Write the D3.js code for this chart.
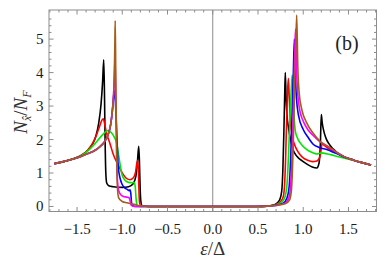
<!DOCTYPE html>
<html><head><meta charset="utf-8">
<script src="https://cdn.jsdelivr.net/npm/d3@7"></script>
<style>html,body{margin:0;padding:0;background:#fff;}svg{display:block;}</style>
</head><body><svg id="c" width="388" height="272"></svg>
<script>
// ---- data: [energy ε/Δ, N/N_F]
const blackSeries = [[-1.75,1.28],[-1.65,1.34],[-1.55,1.42],[-1.45,1.53],[-1.38,1.68],[-1.33,1.86],[-1.29,2.12],[-1.26,2.5],[-1.235,3.05],[-1.218,3.7],[-1.205,4.38],[-1.197,3.4],[-1.19,2.0],[-1.182,1.0],[-1.172,0.7],[-1.15,0.62],[-1.1,0.59],[-1.0,0.57],[-0.93,0.59],[-0.88,0.68],[-0.85,0.9],[-0.832,1.35],[-0.818,1.8],[-0.81,1.3],[-0.802,0.5],[-0.793,0.12],[-0.78,0.02],[-0.7,0],[0,0],[0.5,0],[0.6,0.01],[0.65,0.03],[0.7,0.08],[0.74,0.2],[0.762,0.45],[0.775,1.1],[0.786,2.2],[0.795,3.3],[0.802,4.0],[0.81,3.3],[0.82,2.75],[0.837,2.35],[0.86,2.0],[0.89,1.68],[0.93,1.5],[1.0,1.34],[1.05,1.25],[1.1,1.18],[1.15,1.15],[1.175,1.3],[1.19,1.9],[1.2,2.75],[1.21,2.5],[1.225,2.28],[1.25,2.05],[1.28,1.89],[1.33,1.72],[1.37,1.62],[1.45,1.49],[1.55,1.39],[1.65,1.31],[1.75,1.24]];
const redSeries = [[-1.75,1.28],[-1.65,1.34],[-1.55,1.42],[-1.45,1.53],[-1.38,1.69],[-1.33,1.88],[-1.29,2.1],[-1.25,2.4],[-1.225,2.58],[-1.21,2.62],[-1.19,2.4],[-1.174,2.19],[-1.137,1.89],[-1.1,1.56],[-1.045,1.24],[-0.99,0.96],[-0.95,0.83],[-0.915,0.8],[-0.88,0.85],[-0.855,1.0],[-0.838,1.3],[-0.83,1.38],[-0.822,1.1],[-0.815,0.4],[-0.808,0.1],[-0.795,0.02],[-0.7,0],[0,0],[0.5,0],[0.6,0.01],[0.7,0.06],[0.75,0.15],[0.78,0.3],[0.795,0.7],[0.806,1.5],[0.816,2.5],[0.826,3.4],[0.836,3.83],[0.845,3.3],[0.855,2.7],[0.875,2.15],[0.9,1.88],[0.93,1.69],[0.97,1.53],[1.0,1.45],[1.05,1.38],[1.1,1.34],[1.15,1.36],[1.18,1.45],[1.198,1.7],[1.208,1.88],[1.225,1.84],[1.26,1.77],[1.3,1.7],[1.37,1.6],[1.45,1.49],[1.55,1.39],[1.65,1.31],[1.75,1.24]];
const greenSeries = [[-1.75,1.28],[-1.65,1.34],[-1.55,1.42],[-1.45,1.52],[-1.38,1.66],[-1.32,1.82],[-1.27,1.98],[-1.22,2.14],[-1.18,2.24],[-1.156,2.27],[-1.12,2.2],[-1.09,2.08],[-1.065,1.92],[-1.045,1.62],[-1.027,1.3],[-1.008,1.0],[-0.975,0.8],[-0.93,0.72],[-0.89,0.71],[-0.87,0.72],[-0.857,0.6],[-0.848,0.25],[-0.838,0.04],[-0.8,0],[0,0],[0.5,0],[0.6,0.01],[0.7,0.05],[0.76,0.12],[0.8,0.3],[0.822,0.7],[0.837,1.5],[0.851,2.5],[0.866,3.4],[0.878,3.93],[0.889,3.3],[0.9,2.65],[0.915,2.22],[0.94,2.02],[0.967,1.9],[1.0,1.79],[1.04,1.7],[1.1,1.61],[1.15,1.57],[1.2,1.6],[1.25,1.58],[1.3,1.55],[1.37,1.5],[1.45,1.45],[1.55,1.38],[1.65,1.31],[1.75,1.24]];
const blueSeries = [[-1.75,1.28],[-1.65,1.34],[-1.55,1.41],[-1.45,1.5],[-1.38,1.58],[-1.3,1.68],[-1.25,1.78],[-1.2,1.92],[-1.16,2.12],[-1.13,2.42],[-1.11,2.85],[-1.097,3.25],[-1.089,3.46],[-1.08,3.3],[-1.07,2.8],[-1.058,2.0],[-1.045,1.2],[-1.025,0.85],[-1.005,0.68],[-0.97,0.55],[-0.94,0.5],[-0.925,0.47],[-0.915,0.5],[-0.906,0.4],[-0.898,0.12],[-0.888,0.02],[-0.85,0],[0,0],[0.5,0],[0.6,0.01],[0.7,0.04],[0.78,0.1],[0.82,0.25],[0.845,0.6],[0.862,1.5],[0.876,2.7],[0.89,3.9],[0.902,5.0],[0.912,4.0],[0.925,3.25],[0.948,2.72],[1.0,2.3],[1.06,2.04],[1.11,1.86],[1.17,1.77],[1.2,1.74],[1.25,1.71],[1.3,1.66],[1.37,1.58],[1.45,1.48],[1.55,1.39],[1.65,1.31],[1.75,1.24]];
const magentaSeries = [[-1.75,1.28],[-1.65,1.34],[-1.55,1.41],[-1.45,1.5],[-1.38,1.58],[-1.3,1.68],[-1.25,1.78],[-1.2,1.92],[-1.16,2.12],[-1.13,2.42],[-1.11,2.85],[-1.095,3.4],[-1.086,4.0],[-1.08,4.45],[-1.074,3.6],[-1.067,2.4],[-1.06,1.2],[-1.045,0.55],[-1.025,0.38],[-0.99,0.3],[-0.95,0.28],[-0.925,0.26],[-0.912,0.15],[-0.9,0.03],[-0.87,0],[0,0],[0.5,0],[0.6,0.01],[0.7,0.03],[0.8,0.1],[0.84,0.25],[0.86,0.6],[0.876,1.5],[0.89,2.8],[0.9,3.9],[0.91,4.9],[0.916,5.3],[0.925,4.2],[0.94,3.35],[0.96,2.9],[1.0,2.55],[1.05,2.3],[1.11,2.12],[1.19,1.92],[1.28,1.78],[1.37,1.62],[1.45,1.49],[1.55,1.39],[1.65,1.31],[1.75,1.24]];
const brownSeries = [[-1.75,1.28],[-1.65,1.34],[-1.55,1.41],[-1.45,1.5],[-1.38,1.58],[-1.3,1.68],[-1.25,1.78],[-1.2,1.92],[-1.16,2.12],[-1.13,2.42],[-1.11,2.85],[-1.095,3.4],[-1.087,4.1],[-1.082,4.9],[-1.078,5.55],[-1.072,4.0],[-1.066,2.5],[-1.06,1.2],[-1.052,0.5],[-1.04,0.26],[-1.0,0.15],[-0.95,0.11],[-0.9,0.08],[-0.85,0.05],[-0.8,0.02],[-0.75,0.01],[-0.7,0],[0,0],[0.5,0],[0.6,0.01],[0.7,0.03],[0.8,0.08],[0.85,0.2],[0.87,0.5],[0.886,1.5],[0.9,3.0],[0.915,4.5],[0.928,5.72],[0.94,4.2],[0.955,3.4],[0.985,2.89],[1.04,2.49],[1.11,2.19],[1.19,1.94],[1.28,1.79],[1.37,1.62],[1.45,1.49],[1.55,1.39],[1.65,1.31],[1.75,1.24]];

const seriesList = [blackSeries, redSeries, greenSeries, blueSeries, magentaSeries, brownSeries];
const seriesColors = ["#000000", "#ff0000", "#00e600", "#0000ff", "#ff00ff", "#a65c1a"];
const xMajorTicks = [-1.5, -1.0, -0.5, 0.0, 0.5, 1.0, 1.5];
const xTickLabels = ["\u22121.5", "\u22121.0", "\u22120.5", "0.0", "0.5", "1.0", "1.5"];
const yMajorTicks = [0, 1, 2, 3, 4, 5];
const yTickLabels = ["0", "1", "2", "3", "4", "5"];
const xDomain = [-1.81, 1.81];
const yDomain = [-0.15, 5.87];

// ---- layout
const L = 49, R = 376.5, T = 10, B = 211.5;
const svg = d3.select("#c");
const x = d3.scaleLinear().domain(xDomain).range([L, R]);
const y = d3.scaleLinear().domain(yDomain).range([B, T]);
const frameColor = "#8c8c8c";
const serif = "Liberation Serif, DejaVu Serif, serif";

// vertical zero line
svg.append("line").attr("x1", x(0)).attr("x2", x(0)).attr("y1", T).attr("y2", B)
  .attr("stroke", "#8a8a8a").attr("stroke-width", 1);

// curves
const clip = svg.append("clipPath").attr("id", "cp").append("rect")
  .attr("x", L).attr("y", T).attr("width", R - L).attr("height", B - T);
const line = d3.line().x(d => x(d[0])).y(d => y(d[1])).curve(d3.curveMonotoneX);
const g = svg.append("g").attr("clip-path", "url(#cp)");
seriesList.forEach((s, i) => {
  g.append("path").attr("d", line(s)).attr("fill", "none")
    .attr("stroke", seriesColors[i]).attr("stroke-width", 1.6)
    .attr("stroke-linejoin", "round");
});

// frame
svg.append("rect").attr("x", L).attr("y", T).attr("width", R - L).attr("height", B - T)
  .attr("fill", "none").attr("stroke", frameColor).attr("stroke-width", 1);

// ticks (inward, on all four sides)
const xMinor = d3.range(-18, 19).map(v => v / 10).filter(v => !xMajorTicks.some(m => Math.abs(m - v) < 1e-9));
const yMinor = d3.range(0, 29).map(v => v / 5).filter(v => !yMajorTicks.some(m => Math.abs(m - v) < 1e-9));
const tk = svg.append("g").attr("stroke", frameColor).attr("stroke-width", 1);
function xt(v, len) {
  tk.append("line").attr("x1", x(v)).attr("x2", x(v)).attr("y1", B).attr("y2", B - len);
  tk.append("line").attr("x1", x(v)).attr("x2", x(v)).attr("y1", T).attr("y2", T + len);
}
function yt(v, len) {
  tk.append("line").attr("y1", y(v)).attr("y2", y(v)).attr("x1", L).attr("x2", L + len);
  tk.append("line").attr("y1", y(v)).attr("y2", y(v)).attr("x1", R).attr("x2", R - len);
}
xMajorTicks.forEach(v => xt(v, 4.5));
xMinor.forEach(v => xt(v, 2.5));
yMajorTicks.forEach(v => yt(v, 4.5));
yMinor.forEach(v => yt(v, 2.5));

// tick labels
svg.append("g").selectAll("text").data(xMajorTicks).join("text")
  .attr("x", d => x(d)).attr("y", 234).attr("text-anchor", "middle")
  .attr("font-family", serif).attr("font-size", 15).attr("fill", "#1a1a1a")
  .text((d, i) => xTickLabels[i]);
svg.append("g").selectAll("text").data(yMajorTicks).join("text")
  .attr("x", 43.5).attr("y", d => y(d) + 5).attr("text-anchor", "end")
  .attr("font-family", serif).attr("font-size", 15).attr("fill", "#1a1a1a")
  .text((d, i) => yTickLabels[i]);

// axis titles
const xt2 = svg.append("text").attr("x", x(0)).attr("y", 255).attr("text-anchor", "middle")
  .attr("font-family", serif).attr("font-size", 19).attr("fill", "#333");
xt2.append("tspan").attr("font-style", "italic").text("\u03b5");
xt2.append("tspan").text("/\u0394");

const yl = svg.append("text").attr("transform", "translate(27,112) rotate(-90)")
  .attr("text-anchor", "middle").attr("font-family", serif).attr("font-size", 19).attr("fill", "#333");
yl.append("tspan").attr("font-style", "italic").text("N");
yl.append("tspan").attr("font-style", "italic").attr("font-size", 12).attr("dy", 4).text("x\u0302");
yl.append("tspan").attr("dy", -4).text("/");
yl.append("tspan").attr("font-style", "italic").text("N");
yl.append("tspan").attr("font-style", "italic").attr("font-size", 12).attr("dy", 4).text("F");

// panel label
svg.append("text").attr("x", 347).attr("y", 50).attr("text-anchor", "middle")
  .attr("font-family", serif).attr("font-size", 20).attr("fill", "#222").text("(b)");
</script></body></html>
